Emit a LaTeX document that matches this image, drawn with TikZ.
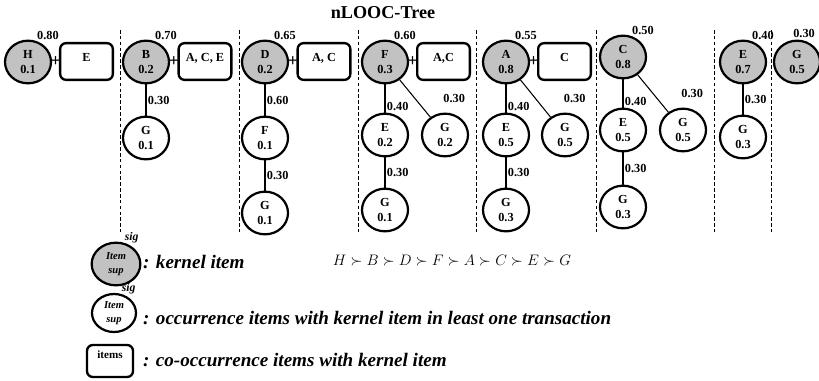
\documentclass[tikz,border=0pt]{standalone}
\usepackage{fontspec}
\setmainfont{Liberation Serif}
\usepackage{amsmath,amssymb}
\usetikzlibrary{positioning,shapes.geometric}

\begin{document}
\begin{tikzpicture}[x=0.03cm, y=-0.03cm,
  kernel/.style={ellipse, draw=black, line width=1.9pt, fill=black!24,
    minimum width=1.38cm, minimum height=1.28cm, inner sep=0pt, align=center,
    font=\fontsize{10.5}{12.5}\selectfont\bfseries},
  occur/.style={kernel, fill=white},
  coitems/.style={draw=black, line width=2pt, rounded corners=5pt,
    minimum width=1.58cm, minimum height=1.1cm, inner sep=1pt,
    text height=7pt, text depth=7pt, font=\fontsize{10.5}{12.5}\selectfont\bfseries},
  wt/.style={font=\fontsize{10.5}{12}\selectfont\bfseries, inner sep=1pt},
  sigl/.style={font=\fontsize{10}{12}\selectfont\bfseries\itshape, inner sep=0pt},
  edge/.style={line width=1.3pt},
  thinedge/.style={line width=0.9pt},
  sep/.style={line width=0.6pt, dash pattern=on 3pt off 2pt},
  plus/.style={font=\fontsize{15}{15}\selectfont\bfseries, inner sep=0pt},
  legend/.style={anchor=west, inner sep=0pt, font=\fontsize{16.3}{18}\selectfont\bfseries\itshape}
]
\useasboundingbox (0,0) rectangle (819,380);

\node[font=\fontsize{15.5}{17}\selectfont\bfseries] (title) at (383,13) {nLOOC-Tree};

% column separators
\foreach \x in {120,239,358,476,596,714,771}
  \draw[sep] (\x,30) -- (\x,232);

% kernel items with their co-occurrence boxes
\node[kernel, label={[wt]70:0.80}] (kH) at (28,62) {H\\0.1};
\node[coitems] (boxH) at (86.5,61.5) {E};
\path (kH) -- node[plus]{+} (boxH);

\node[kernel, label={[wt]70:0.70}] (kB) at (146,62) {B\\0.2};
\node[coitems] (boxB) at (205,61.5) {A, C, E};
\path (kB) -- node[plus]{+} (boxB);

\node[kernel, label={[wt]70:0.65}] (kD) at (265,62) {D\\0.2};
\node[coitems] (boxD) at (324,61.5) {A, C};
\path (kD) -- node[plus]{+} (boxD);

\node[kernel, label={[wt]70:0.60}] (kF) at (385,62) {F\\0.3};
\node[coitems] (boxF) at (443.5,61.5) {A,C};
\path (kF) -- node[plus]{+} (boxF);

\node[kernel, label={[wt]70:0.55}] (kA) at (506,62) {A\\0.8};
\node[coitems] (boxA) at (564.5,61.5) {C};
\path (kA) -- node[plus]{+} (boxA);

\node[kernel, label={[wt]70:0.50}] (kC) at (623,57) {C\\0.8};
\node[kernel, label={[wt]70:0.40}] (kE) at (743,62) {E\\0.7};
\node[kernel, label={[wt, xshift=6pt]90:0.30}] (kG) at (797,62) {G\\0.5};

% occurrence items
\node[occur] (BG) at (146,138) {G\\0.1};
\draw[edge] (kB) -- node[wt, right]{0.30} (BG);

\node[occur] (DF) at (265,138) {F\\0.1};
\node[occur] (DFG) at (265,213) {G\\0.1};
\draw[edge] (kD) -- node[wt, right]{0.60} (DF);
\draw[edge] (DF) -- node[wt, right]{0.30} (DFG);

\node[occur] (FE) at (385,135) {E\\0.2};
\node[occur] (FG) at (445,135) {G\\0.2};
\node[occur] (FEG) at (385,210) {G\\0.1};
\draw[edge] (kF) -- node[wt, right, pos=0.8]{0.40} (FE);
\draw[thinedge] (kF) -- node[wt, right=0.8cm]{0.30} (FG);
\draw[edge] (FE) -- node[wt, right]{0.30} (FEG);

\node[occur] (AE) at (506,135) {E\\0.5};
\node[occur] (AG) at (565,135) {G\\0.5};
\node[occur] (AEG) at (506,210) {G\\0.3};
\draw[edge] (kA) -- node[wt, right, pos=0.8]{0.40} (AE);
\draw[thinedge] (kA) -- node[wt, right=0.8cm]{0.30} (AG);
\draw[edge] (AE) -- node[wt, right]{0.30} (AEG);

\node[occur] (CE) at (623,130) {E\\0.5};
\node[occur] (CG) at (683,130) {G\\0.5};
\node[occur] (CEG) at (623,207) {G\\0.3};
\draw[edge] (kC) -- node[wt, right, pos=0.8]{0.40} (CE);
\draw[thinedge] (kC) -- node[wt, right=0.8cm]{0.30} (CG);
\draw[edge] (CE) -- node[wt, right]{0.30} (CEG);

\node[occur] (EG) at (743,137) {G\\0.3};
\draw[edge] (kE) -- node[wt, right]{0.30} (EG);

% legend
\node[kernel, minimum width=1.46cm, minimum height=1.28cm,
  font=\fontsize{9}{12}\selectfont\bfseries\itshape,
  label={[sigl]68:sig}] (lgK) at (116,264) {Item\\sup};
\node[legend] (lgKt) at (143,262) {: kernel item};

\node[occur, minimum width=1.32cm, minimum height=1.14cm,
  font=\fontsize{9}{12}\selectfont\bfseries\itshape,
  label={[sigl]68:sig}] (lgO) at (114,313) {Item\\sup};
\node[legend] (lgOt) at (143,318) {: occurrence items with kernel item in least one transaction};

\node[coitems, minimum width=1.38cm, minimum height=0.96cm, text depth=11pt,
  font=\fontsize{9.5}{12}\selectfont\bfseries] (lgC) at (110,361) {items};
\node[legend] (lgCt) at (143,360) {: co-occurrence items with kernel item};

\node[font=\fontsize{14.4}{16}\selectfont] (order) at (452,261)
  {\scalebox{0.9}{$H \succ B \succ D \succ F \succ A \succ C \succ E \succ G$}};
\end{tikzpicture}
\end{document}
